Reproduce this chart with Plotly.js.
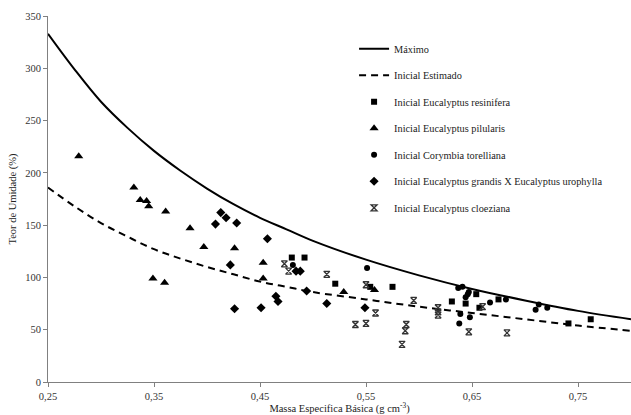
<!DOCTYPE html>
<html>
<head>
<meta charset="utf-8">
<script src="https://cdn.plot.ly/plotly-3.0.1.min.js"></script>
<style>html,body{margin:0;padding:0;background:#fff;}#chart{width:631px;height:415px;}</style>
</head>
<body>
<div id="chart"></div>
<script>
// Curves
const curveX = [0.25, 0.275, 0.30, 0.325, 0.35, 0.375, 0.40, 0.425, 0.45, 0.475, 0.50, 0.55, 0.60, 0.65, 0.70, 0.75, 0.80];
const maximoY = [333, 299, 268, 243, 221, 202, 185, 170, 157, 146, 135, 117, 102, 89, 78, 68, 60];
const estimadoY = [186, 168, 152, 139, 127, 118, 110, 103, 96, 91, 86, 79, 72, 66, 60, 54, 49];

// Observed points
const resiniferaX = [0.480, 0.492, 0.521, 0.554, 0.575, 0.631, 0.644, 0.654, 0.657, 0.675, 0.741, 0.762];
const resiniferaY = [119, 119, 94, 91, 91, 77, 75, 84, 71, 79, 56, 60];

const pilularisX = [0.279, 0.331, 0.337, 0.343, 0.345, 0.361, 0.384, 0.397, 0.426, 0.453, 0.453, 0.349, 0.360, 0.529, 0.558];
const pilularisY = [216, 186, 174, 173, 168, 163, 147, 129, 128, 114, 99, 99, 95, 86, 88];

const corymbiaX = [0.481, 0.551, 0.637, 0.641, 0.644, 0.646, 0.647, 0.639, 0.638, 0.648, 0.667, 0.682, 0.710, 0.713, 0.721];
const corymbiaY = [112, 109, 90, 91, 81, 84, 86, 65, 56, 62, 76, 79, 69, 74, 71];

const grandisX = [0.408, 0.413, 0.418, 0.428, 0.422, 0.426, 0.451, 0.457, 0.465, 0.467, 0.484, 0.488, 0.494, 0.513, 0.549];
const grandisY = [151, 162, 157, 152, 112, 70, 71, 137, 82, 77, 106, 106, 87, 75, 71];

const cloezianaX = [0.473, 0.477, 0.513, 0.550, 0.550, 0.559, 0.540, 0.595, 0.588, 0.587, 0.584, 0.618, 0.618, 0.618, 0.647, 0.660, 0.683];
const cloezianaY = [113, 106, 103, 93, 56, 66, 55, 78, 55, 49, 36, 71, 67, 64, 48, 72, 47];

const xTickVals = [0.25, 0.35, 0.45, 0.55, 0.65, 0.75];
const xTickLabels = ['0,25', '0,35', '0,45', '0,55', '0,65', '0,75'];
const yTickVals = [0, 50, 100, 150, 200, 250, 300, 350];

const serif = 'Liberation Serif, Times New Roman, serif';
const black = '#000000';

const traces = [
  {x: curveX, y: maximoY, name: 'Máximo', mode: 'lines', line: {color: black, width: 2, shape: 'spline', smoothing: 1}, legendgroup: 'a'},
  {x: curveX, y: estimadoY, name: 'Inicial Estimado', mode: 'lines', line: {color: black, width: 2, dash: '7px,5px', shape: 'spline', smoothing: 1}, legendgroup: 'b'},
  {x: resiniferaX, y: resiniferaY, name: 'Inicial Eucalyptus resinifera', mode: 'markers', marker: {symbol: 'square', size: 6, color: black}, legendgroup: 'c'},
  {x: pilularisX, y: pilularisY, name: 'Inicial Eucalyptus pilularis', mode: 'markers', marker: {symbol: 'triangle-up', size: 8, color: black}, legendgroup: 'd'},
  {x: corymbiaX, y: corymbiaY, name: 'Inicial Corymbia torelliana', mode: 'markers', marker: {symbol: 'circle', size: 6, color: black}, legendgroup: 'e'},
  {x: grandisX, y: grandisY, name: 'Inicial Eucalyptus grandis X Eucalyptus urophylla', mode: 'markers', marker: {symbol: 'diamond', size: 7, color: black}, legendgroup: 'f'},
  {x: cloezianaX, y: cloezianaY, name: 'Inicial Eucalyptus cloeziana', mode: 'markers', marker: {symbol: 'hourglass-open', size: 6, color: '#333333', line: {width: 1.3, color: '#333333'}}, legendgroup: 'g'}
];

const layout = {
  width: 631, height: 415,
  margin: {l: 48, r: 0, t: 16, b: 33},
  paper_bgcolor: '#ffffff', plot_bgcolor: '#ffffff',
  font: {family: serif, size: 10.5, color: '#333333'},
  showlegend: true,
  legend: {x: 0.525, y: 0.95, xanchor: 'left', yanchor: 'top', bgcolor: 'rgba(0,0,0,0)',
           font: {family: serif, size: 10.3, color: '#222222'}, traceorder: 'grouped', tracegroupgap: 7.5},
  xaxis: {range: [0.25, 0.80], tickvals: xTickVals, ticktext: xTickLabels, showgrid: false, zeroline: false,
          showline: true, linecolor: '#808080', linewidth: 1, ticks: 'outside', ticklen: 4, tickcolor: '#808080',
          tickfont: {family: serif, size: 10.5, color: '#333333'},
          title: {text: 'Massa Especifica Básica (g cm<sup>-3</sup>)', font: {family: serif, size: 10.5, color: '#222222'}, standoff: 4}},
  yaxis: {range: [0, 350], tickvals: yTickVals, showgrid: false, zeroline: false,
          showline: true, linecolor: '#808080', linewidth: 1, ticks: 'outside', ticklen: 4, tickcolor: '#808080',
          tickfont: {family: serif, size: 10.5, color: '#333333'},
          title: {text: 'Teor de Umidade (%)', font: {family: serif, size: 10.5, color: '#222222'}, standoff: 6}}
};

Plotly.newPlot('chart', traces, layout, {displayModeBar: false, staticPlot: true});
</script>
</body>
</html>
